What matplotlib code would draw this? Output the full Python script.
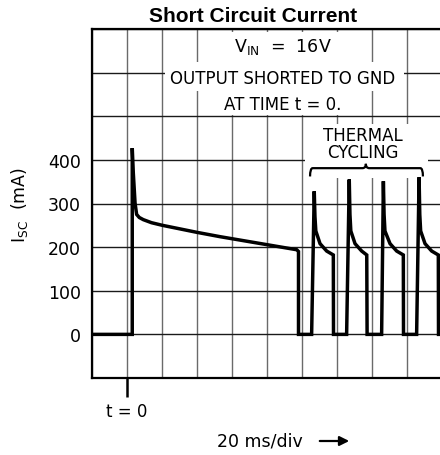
import matplotlib
matplotlib.use("Agg")
import matplotlib.pyplot as plt
from matplotlib.patches import Rectangle, PathPatch
from matplotlib.path import Path
import numpy as np

plt.rcParams['font.family'] = ['DejaVu Sans']
plt.rcParams['mathtext.default'] = 'regular'

# ---- data (time in ms, current in mA) ----
main_t = [-20, 3.0, 3.0, 3.6, 4.6, 5.5, 7.0, 9.3, 14.0, 20.2, 39.8, 53.1, 97.0, 98.0, 98.0]
main_i = [0, 0, 427, 370, 301, 275, 268, 263, 256, 250, 234, 224, 194, 190, 0]
cyc1_t = [105.5, 107.0, 107.4, 107.9, 110.3, 114.1, 117.9, 118.0]
cyc1_i = [0, 328, 270, 237, 208, 191, 182, 0]
cyc2_t = [125.5, 127.0, 127.4, 127.9, 130.3, 134.1, 137.0, 137.2]
cyc2_i = [0, 355, 275, 237, 208, 191, 182, 0]
cyc3_t = [145.5, 146.5, 146.9, 147.4, 150.3, 154.1, 157.9, 158.0]
cyc3_i = [0, 351, 275, 237, 208, 191, 182, 0]
cyc4_t = [165.5, 166.9, 167.3, 167.8, 170.3, 174.1, 177.9, 178.0]
cyc4_i = [0, 360, 275, 237, 208, 191, 182, 0]

y_grid = [-100, 0, 100, 200, 300, 400, 500, 600, 700]
y_labels = ['', '0', '100', '200', '300', '400', '', '', '']
x_grid = [-20, 0, 20, 40, 60, 80, 100, 120, 140, 160, 180]

t = main_t + cyc1_t + cyc2_t + cyc3_t + cyc4_t
i = main_i + cyc1_i + cyc2_i + cyc3_i + cyc4_i

W, H = 440, 456
fig = plt.figure(figsize=(W / 100, H / 100), dpi=100)
ax = fig.add_axes([92 / W, 1 - 379 / H, 350 / W, 349 / H])
ax.set_xlim(-20, 180)
ax.set_ylim(-100, 700)

# grid
for x in x_grid:
    ax.axvline(x, color='#6a6a6a', lw=1.0, zorder=1)
for y in y_grid:
    ax.axhline(y, color='#1a1a1a', lw=1.0, zorder=1)

ax.set_yticks(y_grid)
ax.set_yticklabels(y_labels)
ax.tick_params(axis='y', length=0, pad=8, labelsize=12.5)
ax.set_xticks([0])
ax.set_xticklabels(['t = 0'])
ax.tick_params(axis='x', length=14, width=1.8, pad=3, labelsize=12)
for s in ['left', 'top', 'bottom']:
    ax.spines[s].set_linewidth(1.6)
ax.spines['right'].set_visible(False)

# white boxes behind text
def rect(x0, x1, y0, y1):
    ax.add_patch(Rectangle((x0, y0), x1 - x0, y1 - y0, facecolor='white',
                           edgecolor='none', zorder=2))

rect(41.5, 138.5, 623, 692)
rect(21.5, 158.5, 558, 624)
rect(41.5, 138.5, 504, 559)
rect(101.5, 172, 359, 483)

ax.text(89, 661, r'V$_{IN}$  =  16V', ha='center', va='center', fontsize=12.5, zorder=3)
ax.text(89, 588, 'OUTPUT SHORTED TO GND', ha='center', va='center', fontsize=12, zorder=3)
ax.text(89, 529, 'AT TIME t = 0.', ha='center', va='center', fontsize=12, zorder=3)
ax.text(135, 458, 'THERMAL', ha='center', va='center', fontsize=12, zorder=3)
ax.text(135, 417, 'CYCLING', ha='center', va='center', fontsize=12, zorder=3)

# brace
xl, xr, xm = 104.6, 169.1, 136.5
yb, yt, ytip = 362, 381, 391
verts = [(xl, yb), (xl, yt), (xl + 1.5, yt),
         (xm - 2, yt), (xm, yt), (xm, ytip),
         (xm, yt), (xm + 2, yt),
         (xr - 1.5, yt), (xr, yt), (xr, yb)]
codes = [Path.MOVETO, Path.CURVE3, Path.CURVE3,
         Path.LINETO, Path.CURVE3, Path.CURVE3,
         Path.CURVE3, Path.CURVE3,
         Path.LINETO, Path.CURVE3, Path.CURVE3]
ax.add_patch(PathPatch(Path(verts, codes), facecolor='none', edgecolor='black', lw=1.6, zorder=4))

ax.plot(t, i, color='black', lw=2.5, zorder=5, solid_joinstyle='miter')

fig.text(253 / W, 1 - 17 / H, 'Short Circuit Current', ha='center', va='center',
         fontsize=15, fontweight='bold', family='Liberation Sans')
fig.text(20 / W, 1 - 205 / H, r'I$_{SC}$  (mA)', ha='center', va='center',
         rotation=90, fontsize=12.5)
fig.text(260 / W, 1 - 442 / H, '20 ms/div', ha='center', va='center', fontsize=12.5)
ax.annotate('', xy=(352 / W, 1 - 442 / H), xytext=(317 / W, 1 - 442 / H),
            xycoords='figure fraction', textcoords='figure fraction',
            annotation_clip=False,
            arrowprops=dict(arrowstyle='-|>', color='black', lw=1.6, mutation_scale=14))

fig.savefig('out.png', dpi=100)
